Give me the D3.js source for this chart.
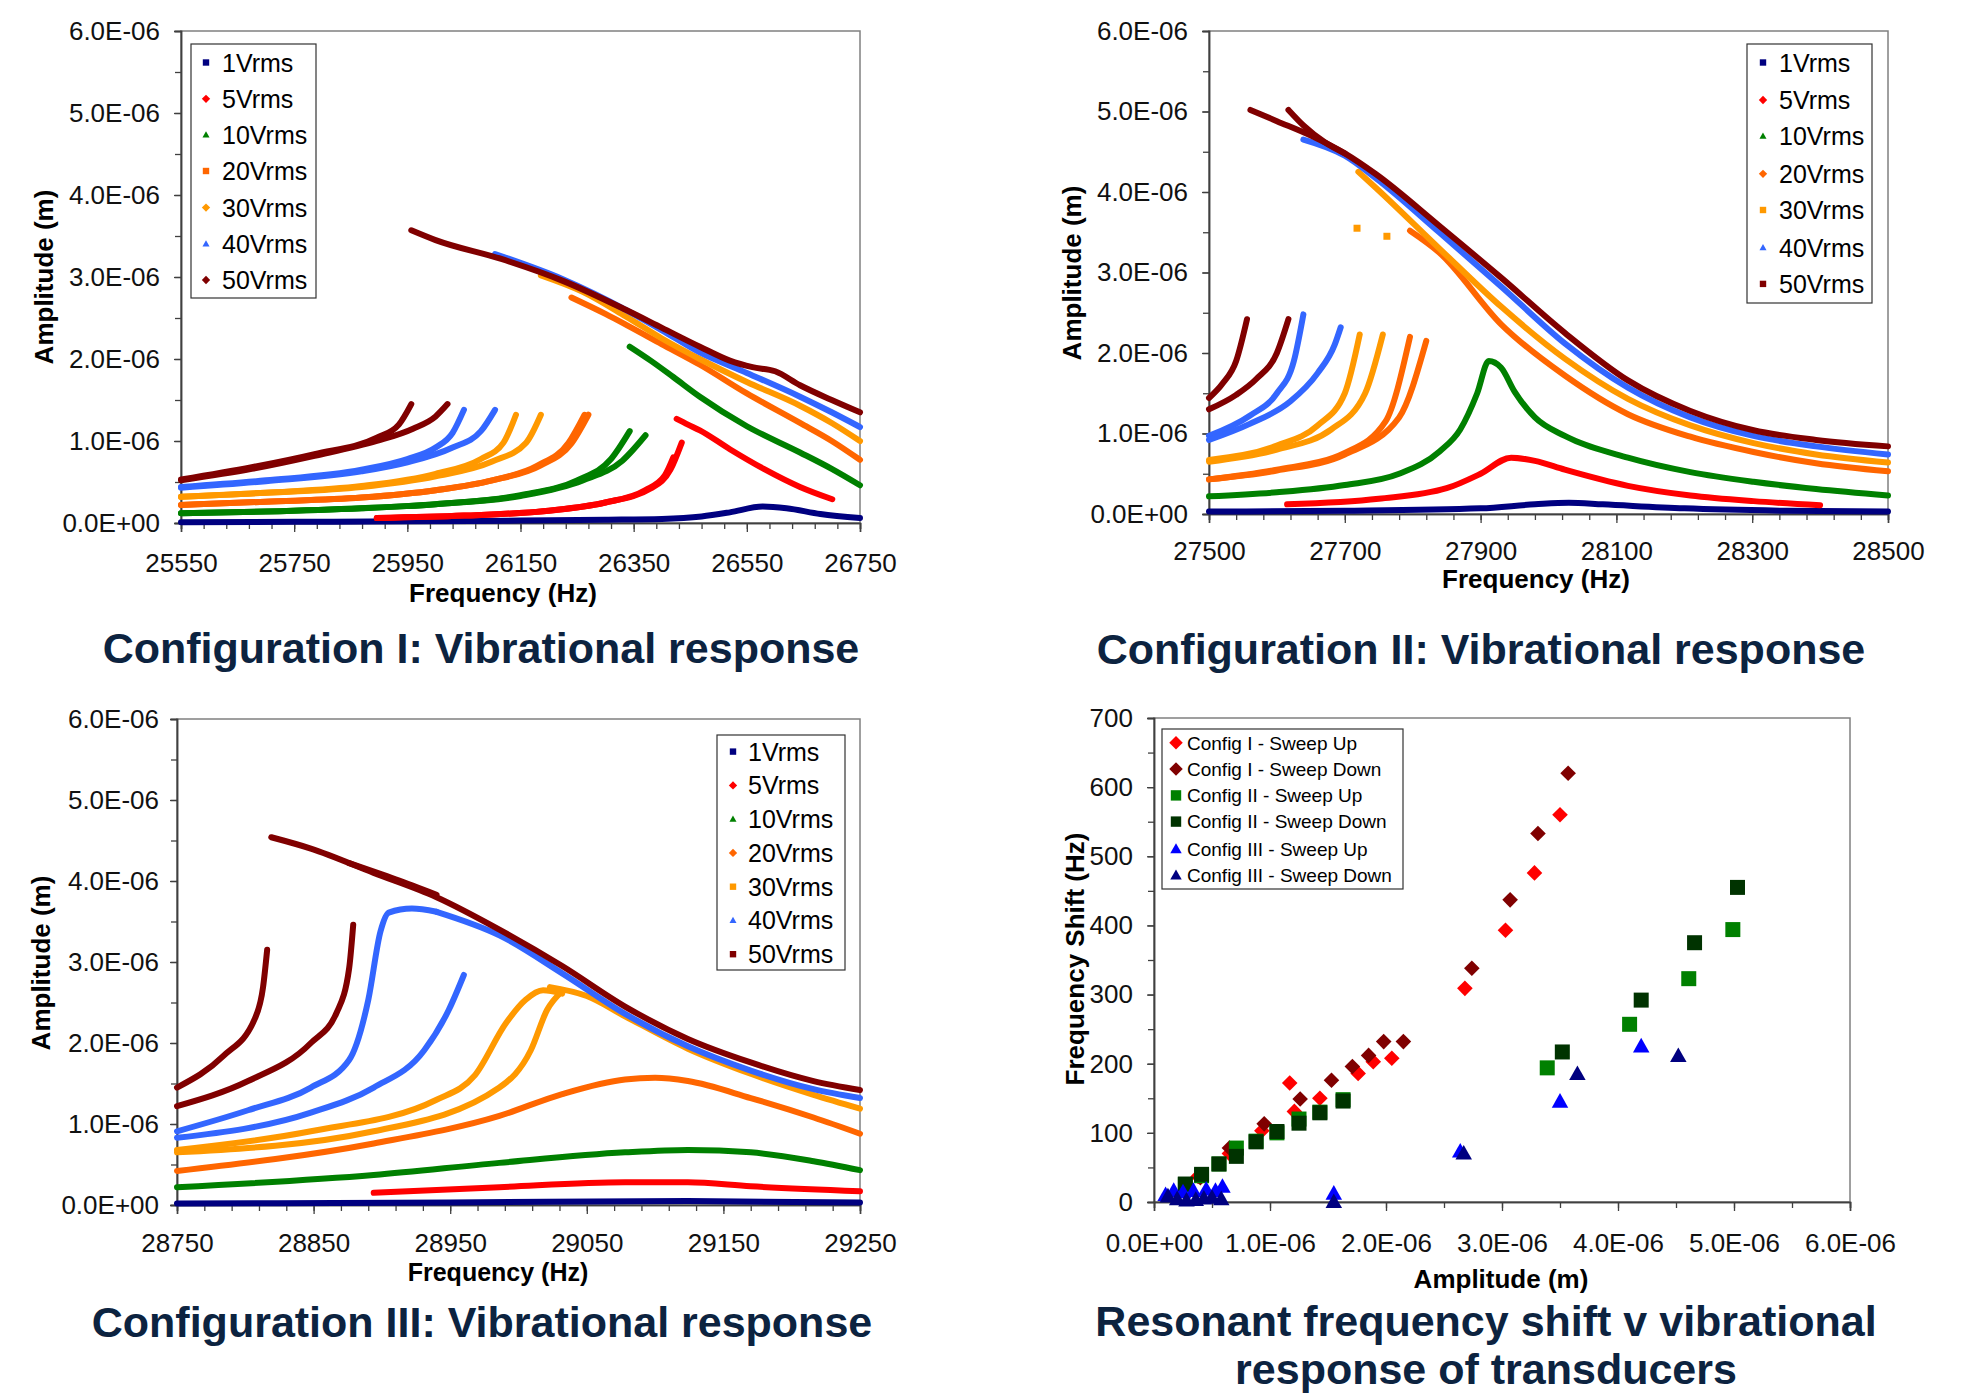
<!DOCTYPE html>
<html><head><meta charset="utf-8">
<script src="https://cdn.jsdelivr.net/npm/d3@7"></script>
<style>body{margin:0;background:#fff}svg{display:block}</style>
</head><body>
<svg id="chart" width="1961" height="1393"></svg>
<script>
// ---------------- DATA ----------------
const legendLabels = ["1Vrms","5Vrms","10Vrms","20Vrms","30Vrms","40Vrms","50Vrms"];
const seriesColors = ["#000080","#FF0000","#008000","#FF6600","#FF9900","#3366FF","#800000"];
const legendShapes1 = ["square","diamond","triangle","square","diamond","triangle","diamond"];
const legendShapes2 = ["square","diamond","triangle","diamond","square","triangle","square"];
const legendShapes3 = ["square","diamond","triangle","diamond","square","triangle","square"];

const ampTicks = [0,1,2,3,4,5,6];               // units of 1e-6 m
const ampTickLabels = ["0.0E+00","1.0E-06","2.0E-06","3.0E-06","4.0E-06","5.0E-06","6.0E-06"];
const freqTicks1 = [25550,25750,25950,26150,26350,26550,26750];
const freqTicks2 = [27500,27700,27900,28100,28300,28500];
const freqTicks3 = [28750,28850,28950,29050,29150,29250];
const shiftTicks = [0,100,200,300,400,500,600,700];

// Configuration I : branches of [frequency Hz, amplitude (x1e-6 m)]
const cfg1_1V = [[[25550,0.01],[25750,0.015],[25950,0.02],[26150,0.03],[26300,0.04],[26400,0.05],[26470,0.08],[26520,0.13],[26578,0.20],[26620,0.18],[26680,0.11],[26750,0.06]]];
const cfg1_5V = [
  [[25896,0.06],[26050,0.09],[26200,0.15],[26300,0.25],[26370,0.40],[26405,0.58],[26420,0.80]],
  [[25896,0.06],[26050,0.09],[26200,0.15],[26300,0.25],[26380,0.42],[26415,0.65],[26435,0.98]],
  [[26426,1.27],[26446,1.20],[26467,1.13],[26520,0.90],[26580,0.66],[26644,0.44],[26701,0.29]]];
const cfg1_10V = [
  [[25550,0.12],[25700,0.14],[25869,0.18],[26000,0.23],[26150,0.34],[26250,0.52],[26310,0.78],[26343,1.12]],
  [[25550,0.12],[25700,0.14],[25869,0.18],[26000,0.23],[26150,0.33],[26260,0.52],[26330,0.76],[26371,1.07]],
  [[26343,2.15],[26380,1.98],[26420,1.78],[26467,1.54],[26550,1.18],[26644,0.86],[26700,0.66],[26750,0.46]]];
const cfg1_20V = [
  [[25550,0.22],[25700,0.26],[25869,0.31],[26000,0.40],[26100,0.52],[26180,0.70],[26235,0.98],[26263,1.32]],
  [[25550,0.22],[25700,0.26],[25869,0.31],[26000,0.40],[26100,0.52],[26185,0.70],[26240,0.97],[26270,1.32]],
  [[26240,2.75],[26300,2.55],[26336,2.42],[26400,2.18],[26467,1.93],[26550,1.58],[26644,1.22],[26700,1.00],[26750,0.77]]];
const cfg1_30V = [
  [[25550,0.32],[25700,0.37],[25869,0.45],[26000,0.60],[26080,0.78],[26120,0.98],[26142,1.32]],
  [[25550,0.32],[25700,0.37],[25869,0.44],[26000,0.57],[26100,0.75],[26160,0.98],[26186,1.32]],
  [[26186,3.02],[26260,2.82],[26336,2.52],[26400,2.25],[26467,2.00],[26550,1.72],[26644,1.43],[26700,1.22],[26750,1.00]]];
const cfg1_40V = [
  [[25550,0.44],[25700,0.52],[25869,0.65],[25950,0.78],[26000,0.92],[26030,1.10],[26050,1.38]],
  [[25550,0.43],[25700,0.51],[25869,0.63],[25950,0.74],[26030,0.92],[26080,1.12],[26105,1.38]],
  [[26105,3.28],[26226,2.97],[26336,2.60],[26400,2.35],[26467,2.08],[26550,1.83],[26644,1.54],[26700,1.35],[26750,1.17]]];
const cfg1_50V = [
  [[25550,0.53],[25675,0.68],[25786,0.84],[25896,1.04],[25935,1.20],[25957,1.45]],
  [[25550,0.52],[25675,0.66],[25786,0.82],[25896,1.00],[25960,1.15],[26000,1.30],[26021,1.45]],
  [[25957,3.57],[26000,3.45],[26116,3.22],[26226,2.95],[26336,2.60],[26400,2.38],[26467,2.15],[26520,1.98],[26560,1.90],[26600,1.85],[26644,1.68],[26700,1.50],[26750,1.35]]];

// Configuration II
const cfg2_1V = [[[27500,0.03],[27700,0.04],[27900,0.07],[27980,0.12],[28030,0.14],[28080,0.12],[28200,0.07],[28350,0.04],[28500,0.03]]];
const cfg2_5V = [[[27615,0.12],[27750,0.19],[27850,0.32],[27900,0.50],[27945,0.70],[27980,0.66],[28024,0.55],[28117,0.35],[28209,0.23],[28302,0.16],[28400,0.11]]];
const cfg2_10V = [[[27500,0.22],[27600,0.27],[27700,0.36],[27780,0.50],[27840,0.78],[27870,1.05],[27895,1.50],[27912,1.90],[27930,1.82],[27950,1.52],[27980,1.20],[28024,0.97],[28117,0.70],[28209,0.52],[28302,0.40],[28394,0.31],[28500,0.23]]];
const cfg2_20V = [
  [[27500,0.43],[27600,0.55],[27700,0.76],[27760,1.15],[27796,2.20]],
  [[27500,0.43],[27600,0.54],[27700,0.74],[27780,1.20],[27820,2.15]],
  [[27796,3.52],[27839,3.25],[27931,2.35],[28024,1.72],[28117,1.24],[28209,0.96],[28302,0.77],[28394,0.63],[28500,0.53]]];
const cfg2_30V = [
  [[27500,0.67],[27600,0.85],[27660,1.10],[27700,1.50],[27722,2.23]],
  [[27500,0.65],[27600,0.80],[27680,1.05],[27730,1.50],[27756,2.23]],
  [[27720,4.25],[27746,4.05],[27839,3.30],[27931,2.57],[28024,1.93],[28117,1.43],[28209,1.10],[28302,0.88],[28394,0.74],[28500,0.64]]];
const cfg2_30V_points = [[27718,3.55],[27762,3.45]];
const cfg2_40V = [
  [[27500,0.97],[27560,1.22],[27600,1.50],[27625,1.90],[27639,2.48]],
  [[27500,0.92],[27560,1.12],[27620,1.40],[27660,1.75],[27685,2.10],[27694,2.32]],
  [[27639,4.65],[27700,4.45],[27746,4.17],[27839,3.50],[27931,2.82],[28024,2.12],[28117,1.57],[28209,1.20],[28302,0.97],[28394,0.84],[28500,0.74]]];
const cfg2_50V = [
  [[27500,1.44],[27520,1.62],[27540,1.90],[27556,2.42]],
  [[27500,1.30],[27540,1.48],[27570,1.68],[27600,2.00],[27617,2.42]],
  [[27561,5.02],[27600,4.88],[27650,4.70],[27700,4.48],[27746,4.22],[27839,3.58],[27931,2.93],[28024,2.25],[28117,1.66],[28209,1.28],[28302,1.04],[28394,0.92],[28500,0.84]],
  [[27617,5.02],[27640,4.82],[27670,4.62],[27700,4.48]]];

// Configuration III
const cfg3_1V = [[[28750,0.02],[28950,0.03],[29124,0.05],[29250,0.03]]];
const cfg3_5V = [[[28894,0.15],[28986,0.22],[29078,0.28],[29124,0.28],[29170,0.23],[29250,0.17]]];
const cfg3_10V = [[[28750,0.22],[28894,0.37],[28986,0.52],[29078,0.65],[29124,0.68],[29170,0.65],[29216,0.54],[29250,0.43]]];
const cfg3_20V = [[[28750,0.42],[28894,0.76],[28986,1.10],[29032,1.37],[29078,1.55],[29100,1.57],[29124,1.53],[29170,1.32],[29216,1.08],[29250,0.88]]];
const cfg3_30V = [
  [[28750,0.68],[28848,0.91],[28940,1.30],[28968,1.60],[28991,2.25],[29005,2.53],[29018,2.65],[29032,2.61]],
  [[28750,0.65],[28894,0.91],[28986,1.45],[29009,1.91],[29021,2.41],[29032,2.64]],
  [[29023,2.69],[29050,2.58],[29078,2.33],[29124,1.93],[29170,1.62],[29216,1.36],[29250,1.19]]];
const cfg3_40V = [
  [[28750,0.91],[28802,1.17],[28848,1.45],[28876,1.79],[28890,2.53],[28899,3.38],[28905,3.61],[28922,3.66],[28940,3.62]],
  [[28750,0.83],[28848,1.14],[28894,1.45],[28931,1.91],[28949,2.41],[28960,2.84]],
  [[28940,3.62],[28986,3.33],[29032,2.86],[29078,2.36],[29124,1.96],[29170,1.66],[29216,1.43],[29250,1.32]]];
const cfg3_50V = [
  [[28750,1.45],[28784,1.84],[28807,2.30],[28813,2.69],[28816,3.15]],
  [[28750,1.22],[28802,1.53],[28848,2.00],[28867,2.38],[28876,2.92],[28879,3.46]],
  [[28819,4.54],[28848,4.40],[28894,4.10],[28940,3.80],[28986,3.40],[29032,2.95],[29078,2.45],[29124,2.05],[29170,1.76],[29216,1.53],[29250,1.42]],
  [[28876,4.22],[28910,4.02],[28940,3.83]]];

// Resonant frequency shift vs amplitude: [amplitude (x1e-6 m), shift Hz]
const shiftLabels = ["Config I - Sweep Up","Config I - Sweep Down","Config II - Sweep Up","Config II - Sweep Down","Config III - Sweep Up","Config III - Sweep Down"];
const shiftColors = ["#FF0000","#800000","#008000","#003300","#0000FF","#000080"];
const shiftShapes = ["diamond","diamond","square","square","triangle","triangle"];
const c1Up = [[0.38,37],[0.65,70],[0.93,103],[1.21,131],[1.17,172],[1.43,150],[1.76,186],[1.89,203],[2.05,208],[2.68,309],[3.03,393],[3.28,476],[3.50,560]];
const c1Down = [[0.40,35],[0.65,78],[0.95,113],[1.26,149],[1.53,176],[1.71,196],[1.85,212],[1.98,232],[2.15,232],[2.74,338],[3.07,437],[3.31,533],[3.57,620]];
const c2Up = [[0.27,25],[0.41,38],[0.56,55],[0.71,78],[0.88,88],[1.06,100],[1.25,120],[1.43,130],[1.63,148],[3.39,194],[4.10,257],[4.61,323],[4.99,394]];
const c2Down = [[0.27,26],[0.41,40],[0.56,55],[0.71,66],[0.88,87],[1.06,102],[1.25,114],[1.43,129],[1.63,146],[3.52,217],[4.20,292],[4.66,375],[5.03,455]];
const c3Up = [[0.10,10],[0.17,16],[0.25,14],[0.34,16],[0.45,18],[0.53,16],[0.59,22],[1.55,12],[2.64,73],[3.50,145],[4.20,225]];
const c3Down = [[0.12,8],[0.20,4],[0.28,2],[0.36,3],[0.43,5],[0.50,6],[0.58,4],[1.55,0],[2.67,70],[3.65,185],[4.52,211]];

// ---------------- DRAWING ----------------
const FONT = "'Liberation Sans', Arial, Helvetica, sans-serif";
const svg = d3.select("#chart").style("font-family", FONT);
svg.append("rect").attr("width",1961).attr("height",1393).attr("fill","#fff");

function shapePath(type, r){
  if(type==="square") return `M${-r},${-r}H${r}V${r}H${-r}Z`;
  if(type==="diamond") return `M0,${-r*1.3}L${r*1.3},0L0,${r*1.3}L${-r*1.3},0Z`;
  return `M0,${-r*1.15}L${r*1.1},${r*0.8}L${-r*1.1},${r*0.8}Z`;
}

function drawAxes(g, x, y, box, o){
  g.append("rect").attr("x",box.l).attr("y",box.t).attr("width",box.r-box.l).attr("height",box.b-box.t)
    .attr("fill","#fff").attr("stroke","#808080").attr("stroke-width",1.5);
  const xm = g.append("g").attr("transform",`translate(0,${box.b})`)
    .call(d3.axisBottom(x).tickValues(o.xMinor).tickSize(6).tickFormat(""));
  const ym = g.append("g").attr("transform",`translate(${box.l},0)`)
    .call(d3.axisLeft(y).tickValues(o.yMinor).tickSize(6).tickFormat(""));
  const xa = g.append("g").attr("transform",`translate(0,${box.b})`)
    .call(d3.axisBottom(x).tickValues(o.xTicks).tickSize(9).tickPadding(o.xPad).tickFormat(o.xFmt));
  const ya = g.append("g").attr("transform",`translate(${box.l},0)`)
    .call(d3.axisLeft(y).tickValues(o.yTicks).tickSize(7).tickPadding(o.yPad).tickFormat(o.yFmt));
  [xm,ym,xa,ya].forEach(a=>{
    a.selectAll("path.domain").attr("stroke","#404040").attr("stroke-width",1.5);
    a.selectAll(".tick line").attr("stroke","#404040").attr("stroke-width",1.3);
    a.selectAll("text").attr("font-size",26).attr("font-family",FONT).attr("fill","#111");
  });
}

function drawLegend(g, lx, ly, lw, lh, rows, labels, colors, shapes, mx, tx, fs, ms){
  g.append("rect").attr("x",lx).attr("y",ly).attr("width",lw).attr("height",lh)
    .attr("fill","#fff").attr("stroke","#333").attr("stroke-width",1.2);
  labels.forEach((lab,i)=>{
    g.append("path").attr("d",shapePath(shapes[i],ms)).attr("transform",`translate(${mx},${rows[i]})`).attr("fill",colors[i]);
    g.append("text").attr("x",tx).attr("y",rows[i]).attr("dy","0.36em").attr("font-size",fs).attr("fill","#000").text(lab);
  });
}

function drawConfig(box, fDomain, fTicks, fStep, series, legendBox, legendRows, shapes, mx, tx, labels){
  const g = svg.append("g");
  const x = d3.scaleLinear().domain(fDomain).range([box.l, box.r]);
  const y = d3.scaleLinear().domain([0,6]).range([box.b, box.t]);
  drawAxes(g, x, y, box, {
    xTicks: fTicks, xMinor: d3.range(fDomain[0], fDomain[1]+1, fStep), xPad: box.xPad, xFmt: d3.format("d"),
    yTicks: ampTicks, yMinor: d3.range(0, 6.01, 0.5), yPad: box.yPad, yFmt: (d,i)=>ampTickLabels[i]
  });
  const dataLayer = g.append("g");
  const line = d3.line().x(d=>x(d[0])).y(d=>y(d[1])).curve(d3.curveMonotoneX);
  series.forEach((branches,i)=>{
    branches.forEach(b=>{
      dataLayer.append("path").attr("d",line(b)).attr("fill","none").attr("stroke",seriesColors[i])
        .attr("stroke-width",6).attr("stroke-linecap","round").attr("stroke-linejoin","round");
    });
  });
  drawLegend(g, legendBox[0], legendBox[1], legendBox[2], legendBox[3], legendRows, legendLabels, seriesColors, shapes, mx, tx, 25, 3.2);
  g.append("text").attr("x",labels.xx).attr("y",labels.xy).attr("dy","0.35em").attr("text-anchor","middle")
    .attr("font-size",labels.xfs || 26).attr("font-weight","bold").text("Frequency (Hz)");
  g.append("text").attr("transform",`translate(${labels.yx},${labels.yy}) rotate(-90)`).attr("dy","0.35em")
    .attr("text-anchor","middle").attr("font-size",26).attr("font-weight","bold").text("Amplitude (m)");
  return {g,x,y,dataLayer};
}

// Panel I
const p1 = drawConfig({l:181,r:860,t:31,b:523,xPad:22,yPad:14}, [25550,26750], freqTicks1, 40,
  [cfg1_1V,cfg1_5V,cfg1_10V,cfg1_20V,cfg1_30V,cfg1_40V,cfg1_50V],
  [191,44,125,254], [62.5,98.8,135,171,207.6,243.9,280], legendShapes1, 206, 222,
  {xx:503, xy:593, yx:44, yy:277});

// Panel II
const p2 = drawConfig({l:1209,r:1888,t:31,b:514,xPad:19,yPad:14}, [27500,28500], freqTicks2, 40,
  [cfg2_1V,cfg2_5V,cfg2_10V,cfg2_20V,cfg2_30V,cfg2_40V,cfg2_50V],
  [1747,44,125,259], [62.5,100,136.3,173.8,210,247.6,283.9], legendShapes2, 1763, 1779,
  {xx:1536, xy:579, yx:1072, yy:273});
p2.dataLayer.selectAll(null).data(cfg2_30V_points).enter().append("path")
  .attr("d",shapePath("square",3.5)).attr("fill",seriesColors[4])
  .attr("transform",d=>`translate(${p2.x(d[0])},${p2.y(d[1])})`);

// Panel III
const p3 = drawConfig({l:177,r:860,t:719,b:1205,xPad:20,yPad:11}, [28750,29250], freqTicks3, 20,
  [cfg3_1V,cfg3_5V,cfg3_10V,cfg3_20V,cfg3_30V,cfg3_40V,cfg3_50V],
  [717,735,128,235], [751.6,785.4,819.1,852.9,886.7,920.4,954.2], legendShapes3, 733, 748,
  {xx:498, xy:1272, yx:41, yy:963, xfs:25});

// Panel IV
(function(){
  const box = {l:1154,r:1850,t:718,b:1202};
  const g = svg.append("g");
  const x = d3.scaleLinear().domain([0,6]).range([box.l, box.r]);
  const y = d3.scaleLinear().domain([0,700]).range([box.b, box.t]);
  drawAxes(g, x, y, box, {
    xTicks: ampTicks, xMinor: d3.range(0,6.01,0.5), xPad: 23, xFmt: (d,i)=>ampTickLabels[i],
    yTicks: shiftTicks, yMinor: d3.range(0,701,50), yPad: 14, yFmt: d3.format("d")
  });
  [c1Up,c1Down,c2Up,c2Down,c3Up,c3Down].forEach((s,i)=>{
    const r = shiftShapes[i]==="square" ? 7.5 : (shiftShapes[i]==="diamond" ? 6 : 7.5);
    g.selectAll(null).data(s).enter().append("path")
      .attr("d",shapePath(shiftShapes[i], r)).attr("fill",shiftColors[i])
      .attr("transform",d=>`translate(${x(d[0])},${y(d[1])})`);
  });
  drawLegend(g, 1162, 729, 241, 160, [742.8,769.1,795.4,821.6,849.2,875.4], shiftLabels, shiftColors, shiftShapes, 1176, 1187, 19, 5.2);
  g.append("text").attr("x",1501).attr("y",1279).attr("dy","0.35em").attr("text-anchor","middle")
    .attr("font-size",26).attr("font-weight","bold").text("Amplitude (m)");
  g.append("text").attr("transform","translate(1075,959) rotate(-90)").attr("dy","0.35em")
    .attr("text-anchor","middle").attr("font-size",26).attr("font-weight","bold").text("Frequency Shift (Hz)");
})();

// Titles
const titles = [
  {t:"Configuration I: Vibrational response", x:481, y:648},
  {t:"Configuration II: Vibrational response", x:1481, y:649},
  {t:"Configuration III: Vibrational response", x:482, y:1322},
  {t:"Resonant frequency shift v vibrational", x:1486, y:1321},
  {t:"response of transducers", x:1486, y:1369}
];
svg.selectAll("text.title").data(titles).enter().append("text").attr("class","title")
  .attr("x",d=>d.x).attr("y",d=>d.y).attr("dy","0.35em").attr("text-anchor","middle")
  .attr("font-size",43).attr("font-weight","bold").attr("fill","#0c2340").text(d=>d.t);
</script>
</body></html>
